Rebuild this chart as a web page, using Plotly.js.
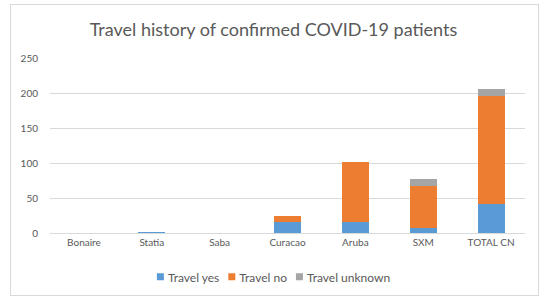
<!DOCTYPE html>
<html>
<head>
<meta charset="utf-8">
<script src="https://cdn.plot.ly/plotly-3.0.1.min.js"></script>
<style>
html,body{margin:0;padding:0;background:#fff;}
#frame{position:absolute;left:10px;top:4px;width:529px;height:292px;border:1px solid #d9d9d9;box-sizing:border-box;}
#chart{position:absolute;left:0;top:0;width:547px;height:299px;}
</style>
</head>
<body>
<div id="frame"></div>
<div id="chart"></div>
<script>
const categories = ["Bonaire", "Statia", "Saba", "Curacao", "Aruba", "SXM", "TOTAL CN"];
const travelYes = [0, 2, 0, 16, 16, 7, 42];
const travelNo = [0, 0, 0, 8, 85, 60, 154];
const travelUnknown = [0, 0, 0, 0, 0, 10, 10];
const yTicks = [0, 50, 100, 150, 200, 250];

const font = "Lato, 'Open Sans', sans-serif";
const traces = [
  {name: "Travel yes", y: travelYes, color: "#5b9bd5"},
  {name: "Travel no", y: travelNo, color: "#ed7d31"},
  {name: "Travel unknown", y: travelUnknown, color: "#a5a5a5"}
].map(s => ({
  type: "bar", x: categories, y: s.y, name: s.name,
  marker: {color: s.color}, hoverinfo: "skip"
}));

const layout = {
  width: 547, height: 299,
  margin: {l: 50, r: 22, t: 58, b: 66},
  paper_bgcolor: "rgba(0,0,0,0)", plot_bgcolor: "rgba(0,0,0,0)",
  barmode: "stack", bargap: 0.6,
  font: {family: font, color: "#595959", size: 10},
  title: {text: "Travel history of confirmed COVID-19 patients", x: 0.5, xanchor: "center", y: 0.9, yanchor: "middle",
    font: {family: font, size: 18, color: "#595959"}},
  xaxis: {showgrid: false, showline: true, linecolor: "#d9d9d9", linewidth: 1, ticks: "", tickfont: {size: 10, color: "#595959"}},
  yaxis: {range: [0, 250], tickvals: yTicks, showgrid: true, gridcolor: "#d9d9d9", zeroline: false, showline: false,
    ticks: "", ticklabelstandoff: 11, tickfont: {size: 10, color: "#595959"}},
  showlegend: true,
  legend: {orientation: "h", xref: "container", yref: "container", x: 0.5, xanchor: "center", y: 0.074, yanchor: "middle",
    traceorder: "normal", font: {size: 12, color: "#595959"}, itemwidth: 30}
};
Plotly.newPlot("chart", traces, layout, {staticPlot: true}).then(gd => {
  // compact Excel-style legend: small squares, tight spacing, centred on the page
  const leg = gd.querySelector(".legend");
  if (!leg) return;
  const m = /translate\(([-\d.]+),\s*([-\d.]+)\)/.exec(leg.getAttribute("transform") || "");
  const lx = m ? parseFloat(m[1]) : 0;
  const items = Array.from(leg.querySelectorAll(".traces"));
  const sq = 7, textGap = 4, itemGap = 9;
  const widths = items.map(it => {
    const t = it.querySelector(".legendtext");
    return sq + textGap + (t ? t.getComputedTextLength() : 40);
  });
  const total = widths.reduce((a, b) => a + b, 0) + itemGap * (items.length - 1);
  let x = 547 / 2 - total / 2 - lx;
  items.forEach((it, i) => {
    const tm = /translate\(([-\d.]+),\s*([-\d.]+)\)/.exec(it.getAttribute("transform") || "");
    const y = tm ? parseFloat(tm[2]) : 0;
    it.setAttribute("transform", `translate(${x},${y})`);
    it.querySelectorAll(".legendpoints path").forEach(p => {
      p.setAttribute("d", `M${sq/2},${sq/2}H${-sq/2}V${-sq/2}H${sq/2}Z`);
      p.setAttribute("transform", `translate(${sq/2},0)`);
      p.style.strokeWidth = "0";
    });
    const t = it.querySelector(".legendtext");
    if (t) {
      t.setAttribute("x", sq + textGap);
      t.querySelectorAll("tspan").forEach(ts => { if (ts.hasAttribute("x")) ts.setAttribute("x", sq + textGap); });
    }
    x += widths[i] + itemGap;
  });
  const bg = leg.querySelector(".bg");
  if (bg) bg.style.display = "none";
});
</script>
</body>
</html>
